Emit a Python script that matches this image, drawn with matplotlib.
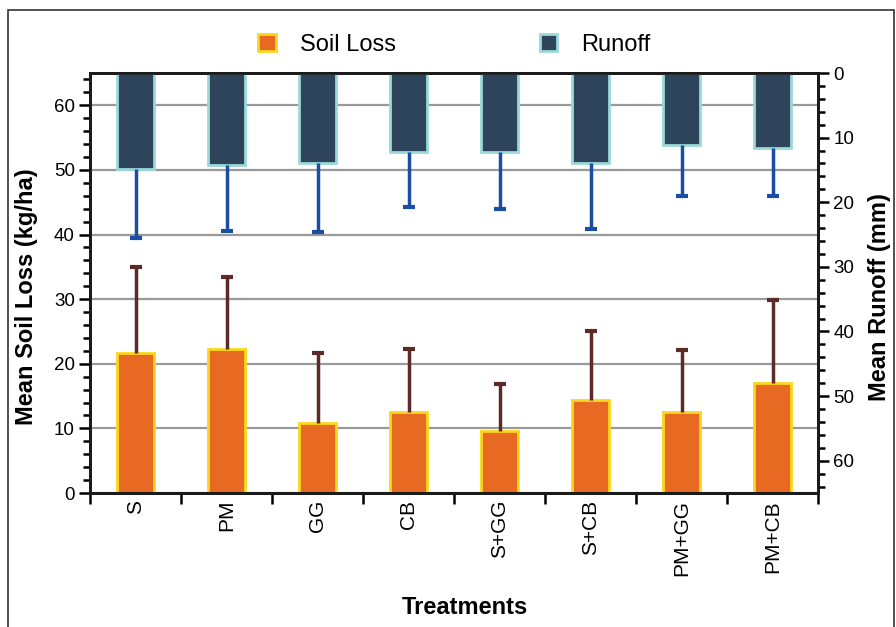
import matplotlib.pyplot as plt
from matplotlib.patches import Rectangle, Patch
from matplotlib.ticker import MultipleLocator
import numpy as np

plt.rcParams['font.family'] = ['Liberation Sans', 'DejaVu Sans']

# data
treatments = ["S", "PM", "GG", "CB", "S+GG", "S+CB", "PM+GG", "PM+CB"]
soil_loss = [21.6, 22.3, 10.8, 12.5, 9.6, 14.4, 12.6, 17.0]
soil_loss_top = [35.0, 33.5, 21.7, 22.3, 16.8, 25.1, 22.2, 29.9]
runoff = [14.8, 14.3, 13.9, 12.2, 12.3, 13.9, 11.2, 11.6]
runoff_end = [25.6, 24.5, 24.6, 20.7, 21.1, 24.2, 19.0, 19.0]

orange = '#e86a22'
yellow = '#f9d71c'
navy = '#2e445b'
cyan = '#9ad8da'

fig = plt.figure(figsize=(8.96, 6.27), dpi=100)
ax = fig.add_axes([90/896, 1-493/627, (818-90)/896, (493-73)/627])
ax2 = ax.twinx()

x = np.arange(len(treatments))
w = 0.40

ax.set_axisbelow(True)
ax.yaxis.grid(True, color='#9a9a9a', lw=1.6)
ax.bar(x, soil_loss, w, color=orange, edgecolor=yellow, lw=2, zorder=2)
# one-sided error bars: stem from bar top, cap only at the far end
ax.vlines(x, soil_loss, soil_loss_top, color='#5c2b29', lw=2.5, zorder=3)
ax.plot(x, soil_loss_top, ls='none', marker='_', ms=8, mew=3, color='#5c2b29', zorder=3)

ax2.bar(x, runoff, w, color=navy, edgecolor=cyan, lw=2, zorder=2)
ax2.vlines(x, runoff, runoff_end, color='#1a4ea3', lw=2.5, zorder=3)
ax2.plot(x, runoff_end, ls='none', marker='_', ms=8, mew=3, color='#1a4ea3', zorder=3)

ax.set_xlim(-0.5, 7.5)
ax.set_ylim(0, 65)
ax2.set_ylim(65, 0)

ax.yaxis.set_major_locator(MultipleLocator(10))
ax.yaxis.set_minor_locator(MultipleLocator(2))
ax2.yaxis.set_major_locator(MultipleLocator(10))
ax2.yaxis.set_minor_locator(MultipleLocator(2))

ax.set_xticks(x)
ax.set_xticklabels(treatments, rotation=90)
ax.set_xticks(np.arange(-0.5, 8, 1), minor=True)
ax.tick_params(axis='x', which='major', length=0, pad=5, labelsize=15)
ax.tick_params(axis='x', which='minor', length=8, width=1.8, direction='out')
ax.tick_params(axis='y', which='major', length=8, width=1.8, labelsize=13.5, pad=3)
ax.tick_params(axis='y', which='minor', length=5, width=1.8)
ax2.tick_params(axis='y', which='major', length=8, width=1.8, labelsize=13.5, pad=3)
ax2.tick_params(axis='y', which='minor', length=5, width=1.8)

for a in (ax, ax2):
    for s in a.spines.values():
        s.set_linewidth(2)
        s.set_color('#1a1a1a')

ax.set_ylabel("Mean Soil Loss (kg/ha)", fontsize=17, fontweight='bold')
ax2.set_ylabel("Mean Runoff (mm)", fontsize=17, fontweight='bold')
ax.set_xlabel("Treatments", fontsize=17, fontweight='bold')
ax.yaxis.set_label_coords(-52/728, 0.467)
ax2.yaxis.set_label_coords(1 + 50/728, 0.467)
ax.xaxis.set_label_coords(0.515, -103/420)

handles = [Patch(facecolor=orange, edgecolor=yellow, lw=2, label="Soil Loss"),
           Patch(facecolor=navy, edgecolor=cyan, lw=2, label="Runoff")]
fig.legend(handles=handles, loc='center', bbox_to_anchor=(0.507, 1-45/627), ncol=2,
           frameon=False, fontsize=17, handlelength=0.75, handleheight=0.75,
           columnspacing=6.1, handletextpad=1.0)

# frame around the figure
fig.patches.append(Rectangle((8/896, -0.01), (894-8)/896, 1-10/627+0.01,
                             transform=fig.transFigure, fill=False,
                             edgecolor='#333333', lw=1.2))

fig.savefig('out.png', dpi=100)
